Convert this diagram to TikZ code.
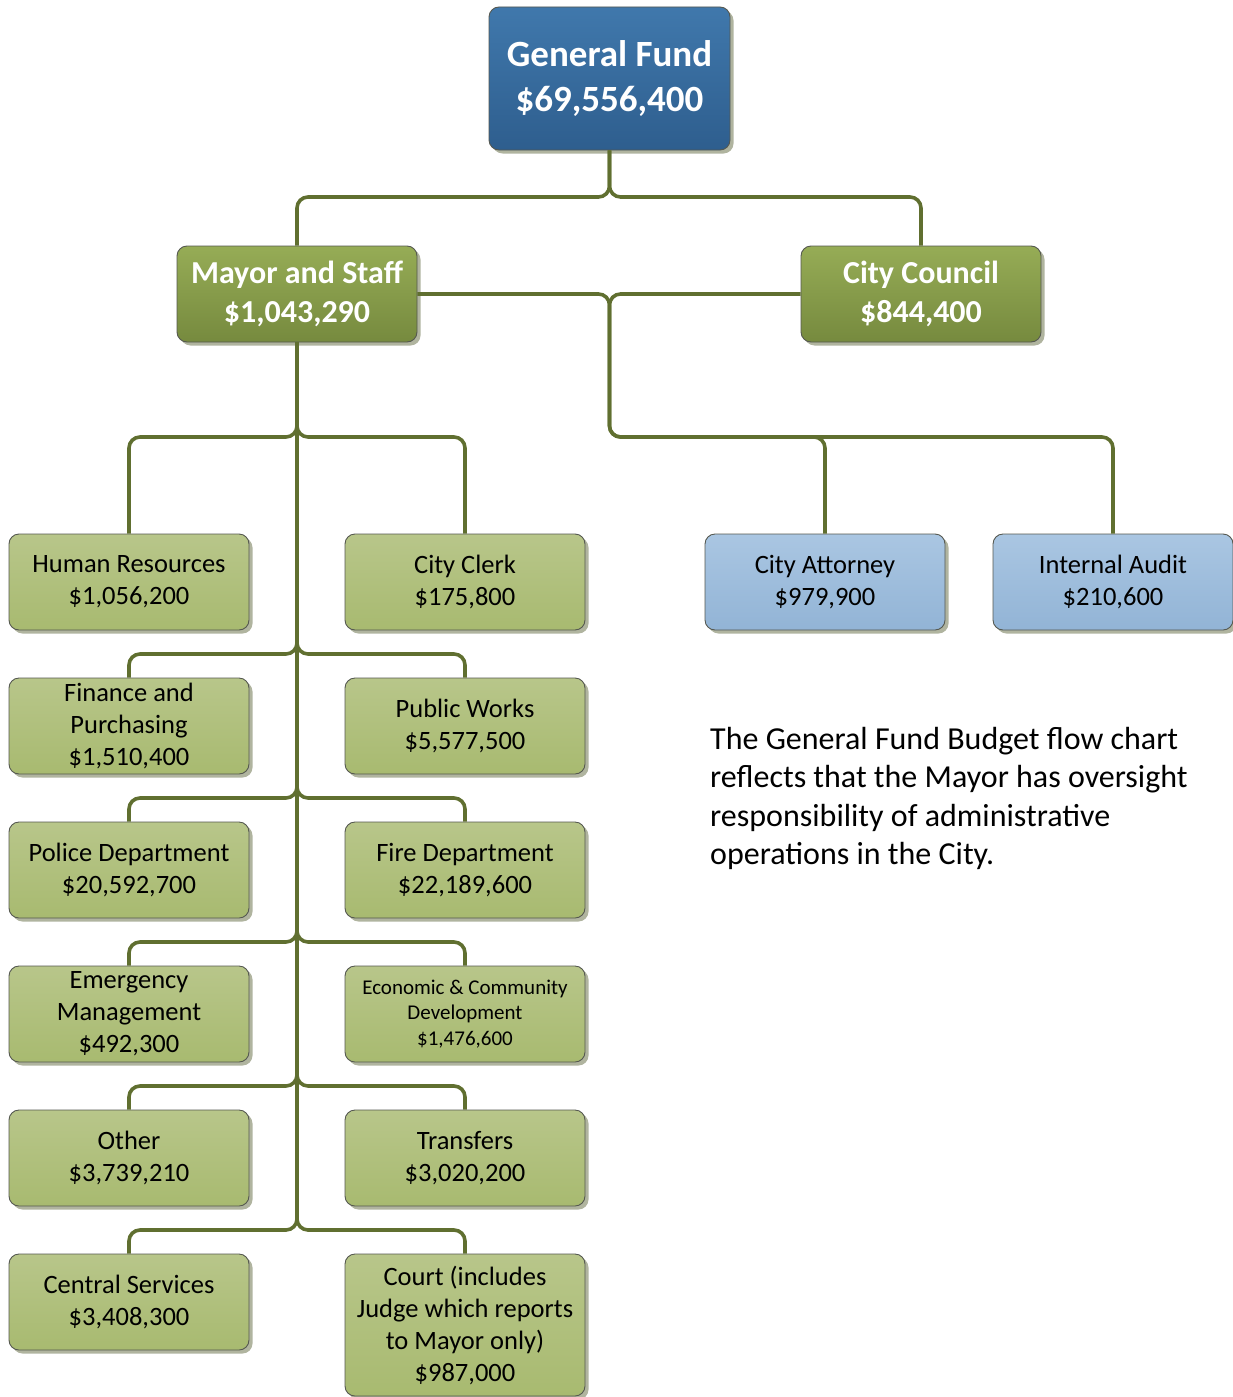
\documentclass[tikz,border=0pt]{standalone}
\usepackage{fontspec}
\setmainfont{Carlito}
\usetikzlibrary{shadows}

\definecolor{fundtop}{RGB}{64,120,172}
\definecolor{fundbot}{RGB}{46,94,142}
\definecolor{headtop}{RGB}{150,172,86}
\definecolor{headbot}{RGB}{118,138,62}
\definecolor{unittop}{RGB}{184,198,138}
\definecolor{unitbot}{RGB}{168,186,112}
\definecolor{bluetop}{RGB}{170,198,226}
\definecolor{bluebot}{RGB}{146,180,214}
\definecolor{connline}{RGB}{96,111,48}
\definecolor{edge}{RGB}{85,88,80}
\definecolor{shade}{RGB}{150,156,128}

\tikzset{
  basebox/.style={rounded corners=10pt, draw=edge, line width=0.9pt,
    minimum width=240pt, minimum height=96pt, align=center, inner sep=2pt,
    drop shadow={shadow xshift=3.5pt, shadow yshift=-3.5pt, fill=shade, opacity=0.75}},
  fundbox/.style={basebox, top color=fundtop, bottom color=fundbot,
    text=white, font=\bfseries\fontsize{37}{45}\selectfont,
    minimum width=241pt, minimum height=143pt},
  headbox/.style={basebox, top color=headtop, bottom color=headbot,
    text=white, font=\bfseries\fontsize{32}{39}\selectfont},
  unitbox/.style={basebox, top color=unittop, bottom color=unitbot,
    text=black, font=\fontsize{26.5}{32}\selectfont},
  bluebox/.style={basebox, top color=bluetop, bottom color=bluebot,
    text=black, font=\fontsize{26.5}{32}\selectfont},
  conn/.style={draw=connline, line width=3.6pt, rounded corners=11pt}
}

\begin{document}
\begin{tikzpicture}[x=1pt,y=-1pt]
  \useasboundingbox (0,0) rectangle (1233,1397);
  \fill[white] (0,0) rectangle (1233,1397);

  % junction points of the connector tree
  \coordinate (jtop) at (609.5,197);
  \coordinate (jmid) at (609.5,294);
  \coordinate (jcity) at (609.5,437);
  \coordinate (jr1) at (297,437);
  \coordinate (jr2) at (297,654);
  \coordinate (jr3) at (297,798);
  \coordinate (jr4) at (297,942);
  \coordinate (jr5) at (297,1086);
  \coordinate (jr6) at (297,1230);

  % boxes
  \node[fundbox] (gf) at (609.5,78.5) {General Fund\\\$69,556,400};
  \node[headbox] (mayor) at (297,294) {Mayor and Staff\\\$1,043,290};
  \node[headbox] (council) at (921,294) {City Council\\\$844,400};

  \node[unitbox] (hr) at (129,582) {Human Resources\\\$1,056,200};
  \node[unitbox] (clerk) at (465,582) {City Clerk\\\$175,800};
  \node[bluebox] (atty) at (825,582) {City Attorney\\\$979,900};
  \node[bluebox] (audit) at (1113,582) {Internal Audit\\\$210,600};

  \node[unitbox] (fin) at (129,726) {Finance and\\Purchasing\\\$1,510,400};
  \node[unitbox] (pw) at (465,726) {Public Works\\\$5,577,500};

  \node[unitbox] (police) at (129,870) {Police Department\\\$20,592,700};
  \node[unitbox] (fire) at (465,870) {Fire Department\\\$22,189,600};

  \node[unitbox] (emerg) at (129,1014) {Emergency\\Management\\\$492,300};
  \node[unitbox, font=\fontsize{21}{25.5}\selectfont] (econ) at (465,1014)
    {Economic \& Community\\Development\\\$1,476,600};

  \node[unitbox] (other) at (129,1158) {Other\\\$3,739,210};
  \node[unitbox] (transfers) at (465,1158) {Transfers\\\$3,020,200};

  \node[unitbox] (central) at (129,1302) {Central Services\\\$3,408,300};
  \node[unitbox, minimum height=142pt] (court) at (465,1325)
    {Court (includes\\Judge which reports\\to Mayor only)\\\$987,000};

  % top level split
  \draw[conn] (gf.south) -- (jtop) -| (mayor.north);
  \draw[conn] (gf.south) -- (jtop) -| (council.north);

  % legislative / oversight branch
  \draw[conn] (mayor.east) -- (jmid) -- (jcity) -| (atty.north);
  \draw[conn] (council.west) -- (jmid) -- (jcity) -| (audit.north);

  % departments under the Mayor
  \draw[conn] (mayor.south) -- (jr1) -| (hr.north);
  \draw[conn] (mayor.south) -- (jr1) -| (clerk.north);
  \draw[conn] (mayor.south) -- (jr2) -| (fin.north);
  \draw[conn] (mayor.south) -- (jr2) -| (pw.north);
  \draw[conn] (mayor.south) -- (jr3) -| (police.north);
  \draw[conn] (mayor.south) -- (jr3) -| (fire.north);
  \draw[conn] (mayor.south) -- (jr4) -| (emerg.north);
  \draw[conn] (mayor.south) -- (jr4) -| (econ.north);
  \draw[conn] (mayor.south) -- (jr5) -| (other.north);
  \draw[conn] (mayor.south) -- (jr5) -| (transfers.north);
  \draw[conn] (mayor.south) -- (jr6) -| (central.north);
  \draw[conn] (mayor.south) -- (jr6) -| (court.north);

  % explanatory note
  \node[anchor=north west, inner sep=0pt, align=left,
        font=\fontsize{32}{38.5}\selectfont] (note) at (710,727)
    {The General Fund Budget flow chart\\
     reflects that the Mayor has oversight\\
     responsibility of administrative\\
     operations in the City.};
\end{tikzpicture}
\end{document}
